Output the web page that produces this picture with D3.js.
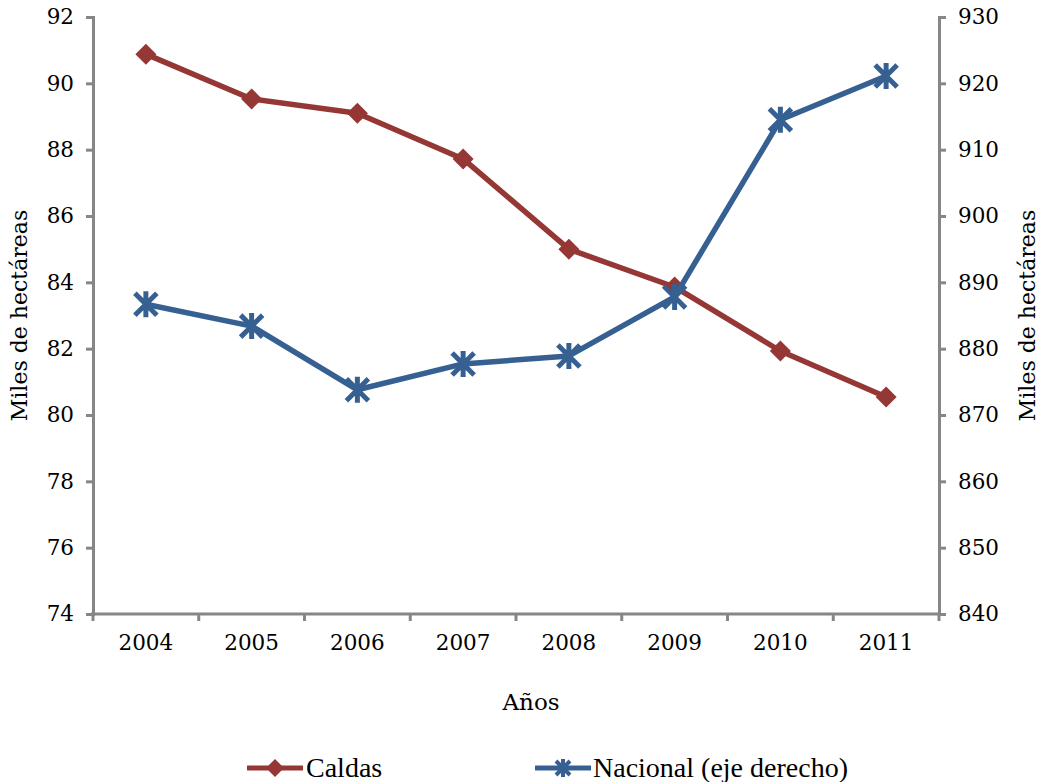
<!DOCTYPE html>
<html>
<head>
<meta charset="utf-8">
<script src="https://cdn.jsdelivr.net/npm/d3@7"></script>
<style>
  body { margin: 0; background: #fff; }
  svg { display: block; }
</style>
</head>
<body>
<svg id="chart" width="1040" height="782"></svg>
<script>
// ——— data ———
const years    = ["2004","2005","2006","2007","2008","2009","2010","2011"];
const caldas   = [90.88, 89.53, 89.10, 87.72, 85.00, 83.86, 81.93, 80.54];
const nacional = [886.7, 883.4, 873.8, 877.7, 878.9, 887.8, 914.5, 921.1];
const leftTicks  = [74, 76, 78, 80, 82, 84, 86, 88, 90, 92];
const rightTicks = [840, 850, 860, 870, 880, 890, 900, 910, 920, 930];

const RED = "#953735", BLUE = "#376092", AXIS = "#868686";
const tickFont = "DejaVu Serif, serif";
const legFont  = "Liberation Serif, serif";

const svg = d3.select("#chart");
const m = {top:17, left:93, right:939, bottom:614};

const x  = d3.scaleBand(years, [m.left, m.right]);
const yL = d3.scaleLinear([74, 92], [m.bottom, m.top]);
const yR = d3.scaleLinear([840, 930], [m.bottom, m.top]);
const cx = d => x(d) + x.bandwidth()/2;

/* ——— axes ——— */
function styleAxis(g){
  g.selectAll(".domain").attr("stroke", AXIS).attr("stroke-width", 3);
  g.selectAll(".tick line").attr("stroke", AXIS).attr("stroke-width", 3);
  g.selectAll(".tick text").attr("fill", "#000")
   .attr("font-family", tickFont).attr("font-size", 21.5);
}

svg.append("g")
  .attr("transform", `translate(${m.left},0)`)
  .call(d3.axisLeft(yL).tickValues(leftTicks).tickSize(7).tickSizeOuter(7).tickPadding(12))
  .call(styleAxis);

svg.append("g")
  .attr("transform", `translate(${m.right},0)`)
  .call(d3.axisRight(yR).tickValues(rightTicks).tickSize(7).tickSizeOuter(7).tickPadding(12))
  .call(styleAxis);

// x axis: ticks at band edges, labels at band centres
const xg = svg.append("g").attr("transform", `translate(0,${m.bottom})`);
xg.append("line").attr("x1", m.left - 2).attr("x2", m.right + 2)
  .attr("stroke", AXIS).attr("stroke-width", 3);
xg.selectAll("line.tk").data(years.concat(["end"])).join("line")
  .attr("class","tk")
  .attr("x1", (d,i) => i < years.length ? x(d) : m.right)
  .attr("x2", (d,i) => i < years.length ? x(d) : m.right)
  .attr("y1", 0).attr("y2", 7)
  .attr("stroke", AXIS).attr("stroke-width", 3);
xg.selectAll("text").data(years).join("text")
  .attr("x", d => cx(d)).attr("y", 36)
  .attr("text-anchor","middle")
  .attr("font-family", tickFont).attr("font-size", 21.5)
  .text(d => d);

/* ——— axis titles ——— */
svg.append("text")
  .attr("transform", `translate(27,${(m.top+m.bottom)/2}) rotate(-90)`)
  .attr("text-anchor","middle")
  .attr("font-family", tickFont).attr("font-size", 22)
  .text("Miles de hectáreas");
svg.append("text")
  .attr("transform", `translate(1035,${(m.top+m.bottom)/2}) rotate(-90)`)
  .attr("text-anchor","middle")
  .attr("font-family", tickFont).attr("font-size", 22)
  .text("Miles de hectáreas");
svg.append("text")
  .attr("x", 531).attr("y", 710)
  .attr("text-anchor","middle")
  .attr("font-family", tickFont).attr("font-size", 23)
  .text("Años");

/* ——— markers ——— */
function diamond(g, px, py, r){
  g.append("path")
    .attr("d", `M${px},${py-r}L${px+r},${py}L${px},${py+r}L${px-r},${py}Z`)
    .attr("fill", RED);
}
function asterisk(g, px, py, r, w){
  const p = `M${px-r},${py-r}L${px+r},${py+r}M${px-r},${py+r}L${px+r},${py-r}M${px},${py-r-2}L${px},${py+r+2}`;
  g.append("path").attr("d", p)
    .attr("stroke", BLUE).attr("stroke-width", w).attr("fill","none");
}

/* ——— lines ——— */
const line = d3.line();
const caldasPts   = years.map((d,i) => [cx(d), yL(caldas[i])]);
const nacionalPts = years.map((d,i) => [cx(d), yR(nacional[i])]);

const gC = svg.append("g");
gC.append("path").attr("d", line(caldasPts))
  .attr("fill","none").attr("stroke", RED).attr("stroke-width", 5.5)
  .attr("stroke-linejoin","round");
caldasPts.forEach(([px,py]) => diamond(gC, px, py, 10.5));

const gN = svg.append("g");
gN.append("path").attr("d", line(nacionalPts))
  .attr("fill","none").attr("stroke", BLUE).attr("stroke-width", 5.5)
  .attr("stroke-linejoin","round");
nacionalPts.forEach(([px,py]) => asterisk(gN, px, py, 11, 5));

/* ——— legend ——— */
const leg = svg.append("g");
const ly = 768;
leg.append("line").attr("x1", 247).attr("x2", 303).attr("y1", ly).attr("y2", ly)
  .attr("stroke", RED).attr("stroke-width", 5);
diamond(leg, 275, ly, 9);
leg.append("text").attr("x", 306).attr("y", ly + 9)
  .attr("font-family", legFont).attr("font-size", 28).text("Caldas");

leg.append("line").attr("x1", 535).attr("x2", 591).attr("y1", ly).attr("y2", ly)
  .attr("stroke", BLUE).attr("stroke-width", 5);
asterisk(leg, 563, ly, 7, 4);
leg.append("text").attr("x", 593).attr("y", ly + 9)
  .attr("font-family", legFont).attr("font-size", 28).text("Nacional (eje derecho)");
</script>
</body>
</html>
